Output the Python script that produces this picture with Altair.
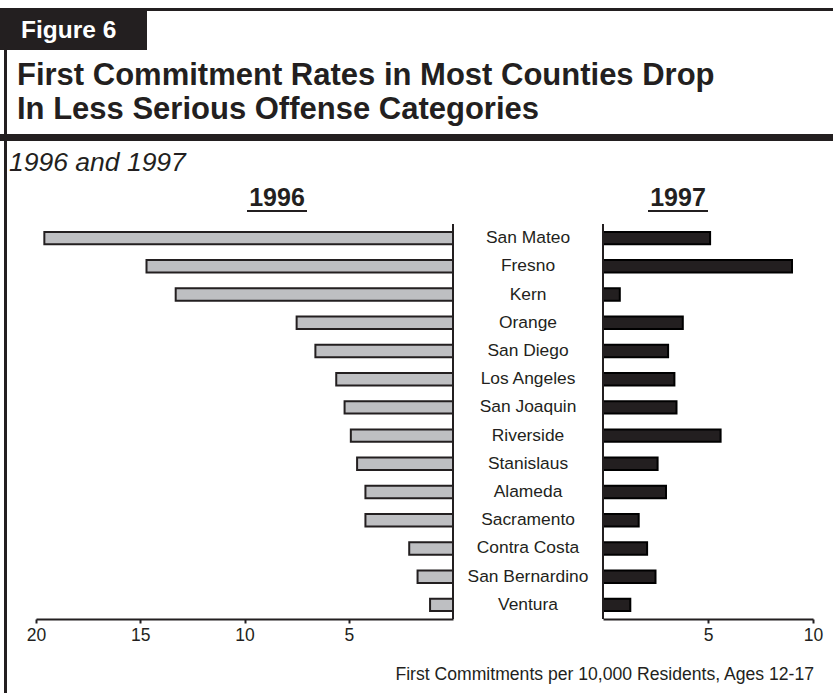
import altair as alt
import pandas as pd

counties = ["San Mateo", "Fresno", "Kern", "Orange", "San Diego", "Los Angeles",
            "San Joaquin", "Riverside", "Stanislaus", "Alameda", "Sacramento",
            "Contra Costa", "San Bernardino", "Ventura"]
rate_1996 = [19.6, 14.7, 13.3, 7.5, 6.6, 5.6, 5.2, 4.9, 4.6, 4.2, 4.2, 2.1, 1.7, 1.1]
rate_1997 = [5.1, 9.0, 0.8, 3.8, 3.1, 3.4, 3.5, 5.6, 2.6, 3.0, 1.7, 2.1, 2.5, 1.3]
ticks_1996 = [5, 10, 15, 20]
ticks_1997 = [5, 10]

FONT = "Liberation Sans"
INK = "#231f20"

df = pd.DataFrame({"county": counties, "r1996": rate_1996, "r1997": rate_1997})

ysc = alt.Scale(domain=counties, range=[224, 619], paddingInner=0.56, paddingOuter=0.28)
left_scale = alt.Scale(domain=[0, 20], range=[453, 36], nice=False)
right_scale = alt.Scale(domain=[0, 10], range=[603, 813], nice=False)

axis_common = dict(grid=False, title=None, domainColor=INK, domainWidth=2,
                   tickColor=INK, tickWidth=2, tickSize=4, labelFont=FONT,
                   labelFontSize=17.5, labelColor=INK, labelPadding=3,
                   labelFlush=False, orient="bottom")

base = alt.Chart(df)

left = base.mark_bar(fill="#bebfc2", stroke=INK, strokeWidth=2).encode(
    x=alt.X("r1996:Q", scale=left_scale, axis=alt.Axis(values=ticks_1996, **axis_common)),
    y=alt.Y("county:N", scale=ysc, axis=None),
)
right = base.mark_bar(fill=INK, stroke="#000000", strokeWidth=2).encode(
    x=alt.X("r1997:Q", scale=right_scale, axis=alt.Axis(values=ticks_1997, **axis_common)),
    y=alt.Y("county:N", scale=ysc, axis=None),
)
labels = base.mark_text(font=FONT, fontSize=17.4, color=INK, align="center",
                        baseline="middle").encode(
    x=alt.value(528),
    y=alt.Y("county:N", scale=ysc, axis=None),
    text="county:N",
)

one = alt.Data(values=[{}])

left_vline = alt.Chart(one).mark_rule(color=INK, strokeWidth=2).encode(
    x=alt.XDatum(0, scale=left_scale, axis=None),
    y=alt.value(224), y2=alt.value(619),
)
right_vline = alt.Chart(one).mark_rule(color=INK, strokeWidth=2).encode(
    x=alt.XDatum(0, scale=right_scale, axis=None),
    y=alt.value(224), y2=alt.value(619),
)


def hrule(x1, x2, y, w):
    return alt.Chart(one).mark_rule(color=INK, strokeWidth=w).encode(
        x=alt.value(x1), x2=alt.value(x2), y=alt.value(y))


def txt(text, x, y, size, align="left", weight="normal", style="normal", color=INK):
    return alt.Chart(one).mark_text(text=text, font=FONT, fontSize=size, align=align,
                                    baseline="alphabetic", fontWeight=weight,
                                    fontStyle=style, color=color).encode(
        x=alt.value(x), y=alt.value(y))


top_border = hrule(0, 833, 9.5, 3)
sep = hrule(0, 833, 137.5, 7)
left_border = alt.Chart(one).mark_rule(color=INK, strokeWidth=3).encode(
    x=alt.value(5.5), y=alt.value(9), y2=alt.value(693))
fig_box = alt.Chart(one).mark_rect(color=INK).encode(
    x=alt.value(0), x2=alt.value(147), y=alt.value(9), y2=alt.value(50))

fig_label = txt("Figure 6", 21, 38, 24.5, weight="bold", color="white")
title1 = txt("First Commitment Rates in Most Counties Drop", 17, 85, 31, weight="bold")
title2 = txt("In Less Serious Offense Categories", 17, 119, 31, weight="bold")
subtitle = txt("1996 and 1997", 9, 171, 26.5, style="italic")
h1996 = txt("1996", 277, 206, 25, align="center", weight="bold")
h1997 = txt("1997", 678, 206, 25, align="center", weight="bold")
u1996 = hrule(247, 307, 211, 2)
u1997 = hrule(648, 708, 211, 2)
footer = txt("First Commitments per 10,000 Residents, Ages 12-17", 814, 680, 17.6, align="right")

chart = alt.layer(
    left, right, labels, left_vline, right_vline,
    top_border, sep, left_border, fig_box, fig_label, title1, title2, subtitle,
    h1996, h1997, u1996, u1997, footer,
).resolve_scale(x="independent").properties(
    width=833, height=619,
    padding={"left": 0, "right": 0, "top": 0, "bottom": 74},
    autosize=alt.AutoSizeParams(type="none"),
    background="white",
).configure_view(strokeWidth=0)

chart.save("out.html", embed_options={"renderer": "svg", "actions": False})
